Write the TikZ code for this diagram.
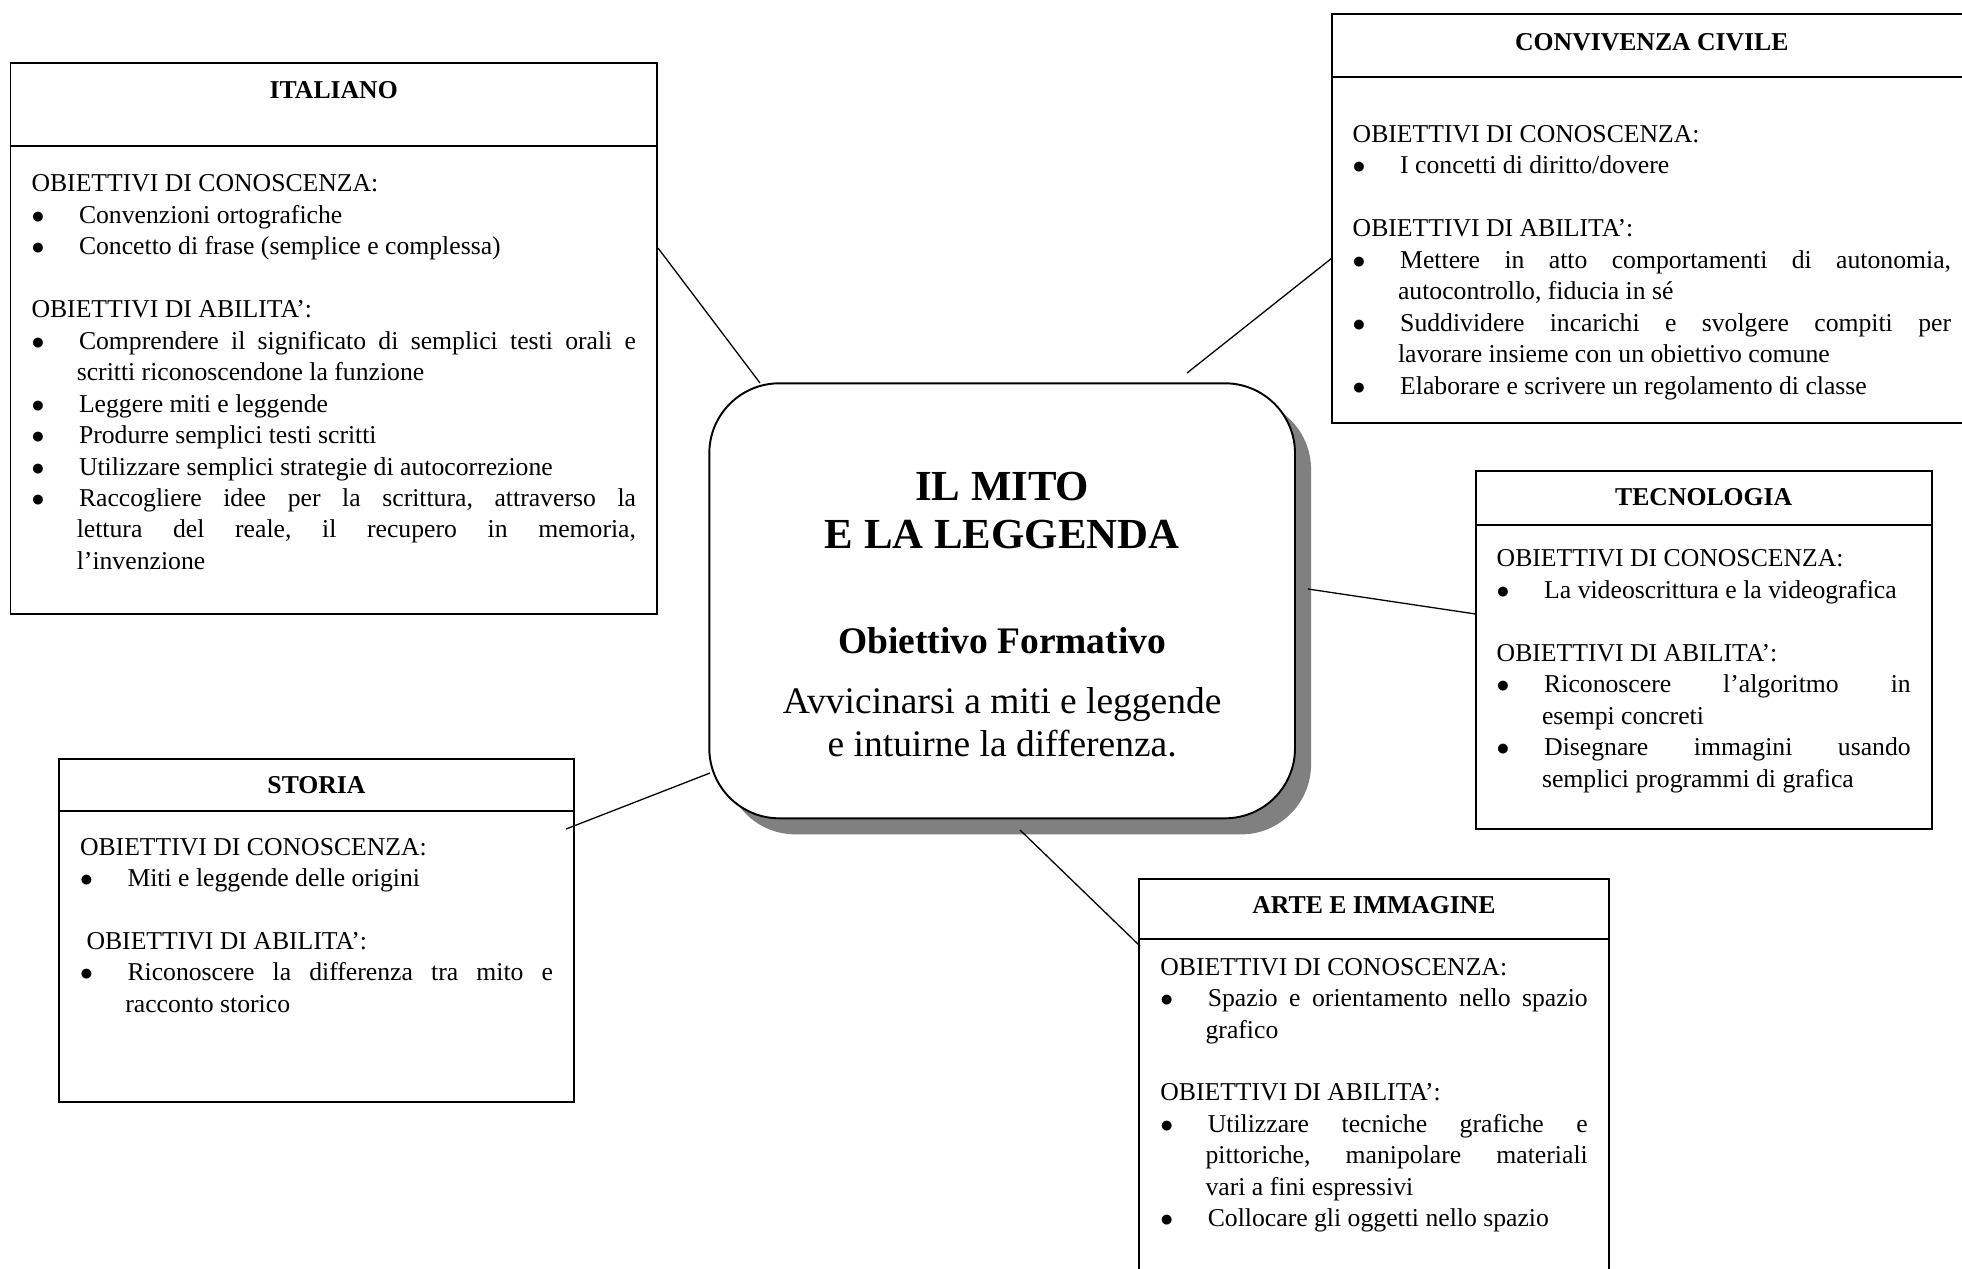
\documentclass[tikz,border=0pt]{standalone}
\usepackage{fontspec}
\setmainfont{Liberation Serif}
\usepackage{tikz}
\usetikzlibrary{positioning,shadows}

\newdimen\pix
\pix=0.467pt
\tolerance=10000
\hyphenpenalty=10000
\hbadness=10000
\frenchspacing

\newcommand{\testo}{\fontsize{12}{14.7}\selectfont}
\newcommand{\cella}[4]{\parbox[c][#2\pix][t]{#1\pix}{\testo\vspace*{#3\pix}\leavevmode\strut#4}}
\newcommand{\pallino}{$\bullet$}
\newcommand{\voce}[1]{\par\hangindent=45.3\pix\hangafter=1\noindent\makebox[47.5\pix][l]{\pallino}#1}
\newcommand{\vuoto}{\par\vspace{\baselineskip}}

\begin{document}
\begin{tikzpicture}[x=0.467pt,y=-0.467pt,
  testa/.style={draw,line width=0.9pt,inner sep=0pt,outer sep=0pt,anchor=north west},
  corpo/.style={draw,line width=0.9pt,inner xsep=9.8pt,inner ysep=0pt,outer sep=0pt},
  mito/.style={draw,line width=0.9pt,fill=white,rounded corners=32.7pt,inner sep=0pt,outer sep=0pt,
    drop shadow={shadow xshift=7.5pt,shadow yshift=-7.5pt,opacity=1,fill=black!50}},
  filo/.style={line width=0.6pt}]
\useasboundingbox (0,0) rectangle (1962,1268);
\clip (0,0) rectangle (1962,1268);

\node[testa] (ita-t) at (10.5,62.6) {\cella{646.5}{83.8}{14}{\centering\bfseries ITALIANO}};
\node[corpo,below=0pt of ita-t] (ita) {\cella{604.5}{468}{23.3}{OBIETTIVI DI CONOSCENZA:
  \voce{Convenzioni ortografiche}
  \voce{Concetto di frase (semplice e complessa)}
  \vuoto OBIETTIVI DI ABILITA’:
  \voce{Comprendere il significato di semplici testi orali e\linebreak scritti riconoscendone la funzione}
  \voce{Leggere miti e leggende}
  \voce{Produrre semplici testi scritti}
  \voce{Utilizzare semplici strategie di autocorrezione}
  \voce{Raccogliere idee per la scrittura, attraverso la\linebreak lettura del reale, il recupero in memoria,\linebreak l’invenzione}}};

\node[testa] (civ-t) at (1331.7,14) {\cella{640.3}{63.3}{14}{\centering\bfseries CONVIVENZA CIVILE}};
\node[corpo,below=0pt of civ-t] (civ) {\cella{598.3}{346}{43}{OBIETTIVI DI CONOSCENZA:
  \voce{I concetti di diritto/dovere}
  \vuoto OBIETTIVI DI ABILITA’:
  \voce{Mettere in atto comportamenti di autonomia,\linebreak autocontrollo, fiducia in sé}
  \voce{Suddividere incarichi e svolgere compiti per\linebreak lavorare insieme con un obiettivo comune}
  \voce{Elaborare e scrivere un regolamento di classe}}};

\node[testa] (tec-t) at (1475.7,470.7) {\cella{456}{54.3}{13}{\centering\bfseries TECNOLOGIA}};
\node[corpo,below=0pt of tec-t] (tec) {\cella{414}{304}{19.7}{OBIETTIVI DI CONOSCENZA:
  \voce{La videoscrittura e la videografica}
  \vuoto OBIETTIVI DI ABILITA’:
  \voce{Riconoscere l’algoritmo in\linebreak esempi concreti}
  \voce{Disegnare immagini usando\linebreak semplici programmi di grafica}}};

\node[testa] (sto-t) at (59,759) {\cella{515}{52}{12.3}{\centering\bfseries STORIA}};
\node[corpo,below=0pt of sto-t] (sto) {\cella{473}{290.7}{22}{OBIETTIVI DI CONOSCENZA:
  \voce{Miti e leggende delle origini}
  \vuoto\hspace*{6.5\pix}OBIETTIVI DI ABILITA’:
  \voce{Riconoscere la differenza tra mito e\linebreak racconto storico}}};

\node[testa] (arte-t) at (1139.3,879) {\cella{469.4}{60}{12.3}{\centering\bfseries ARTE E IMMAGINE}};
\node[corpo,below=0pt of arte-t] (arte) {\cella{427.4}{420}{14}{OBIETTIVI DI CONOSCENZA:
  \voce{Spazio e orientamento nello spazio\linebreak grafico}
  \vuoto OBIETTIVI DI ABILITA’:
  \voce{Utilizzare tecniche grafiche e\linebreak pittoriche, manipolare materiali\linebreak vari a fini espressivi}
  \voce{Collocare gli oggetti nello spazio}}};

\node[mito,anchor=north west] (mito) at (709.3,383.3) {\parbox[c][435\pix][t]{585.7\pix}{\centering
  \vspace*{38.7pt}
  {\fontsize{20}{22.6}\selectfont\bfseries\strut IL MITO\\E LA LEGGENDA\par}
  \vspace{28.7pt}
  {\fontsize{17.5}{20.3}\selectfont\bfseries Obiettivo Formativo\par}
  \vspace{7.7pt}
  {\fontsize{17.5}{20.3}\selectfont Avvicinarsi a miti e leggende\\e intuirne la differenza.\par}}};

\coordinate (ita-a) at (658,248);
\coordinate (mito-a) at (760,383);
\coordinate (civ-a) at (1332,258);
\coordinate (mito-b) at (1187,373);
\coordinate (tec-a) at (1475.7,614);
\coordinate (mito-c) at (1308,589);
\coordinate (sto-a) at (566,829);
\coordinate (mito-d) at (710,773);
\coordinate (arte-a) at (1140,946);
\coordinate (mito-e) at (1020,830);

\draw[filo] (ita-a) -- (mito-a);
\draw[filo] (civ-a) -- (mito-b);
\draw[filo] (mito-c) -- (tec-a);
\draw[filo] (sto-a) -- (mito-d);
\draw[filo] (mito-e) -- (arte-a);
\end{tikzpicture}
\end{document}
